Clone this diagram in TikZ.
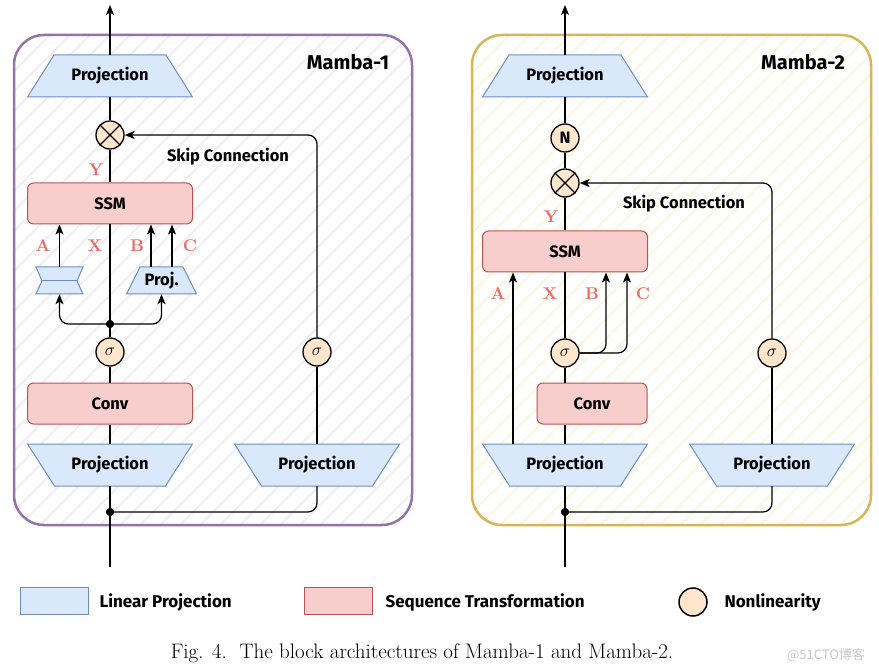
\documentclass[tikz,border=0pt]{standalone}
\usepackage{fontspec}
\newfontfamily\dfont{Fira Sans}
\newfontfamily\cjkfont{Noto Sans CJK SC}
\newfontfamily\lmbold{lmroman10-bold}[Extension=.otf]
\usetikzlibrary{arrows.meta,calc}
\definecolor{projfill}{HTML}{DAE8FC}
\definecolor{projdraw}{HTML}{6C8EBF}
\definecolor{seqfill}{HTML}{F8CECC}
\definecolor{seqdraw}{HTML}{B85450}
\definecolor{nlfill}{HTML}{FFE6CC}
\definecolor{purpleb}{HTML}{9673A6}
\definecolor{goldb}{HTML}{D6B656}
\definecolor{hatchP}{HTML}{E1D5E7}
\definecolor{hatchY}{HTML}{FFF2CC}
\definecolor{lab}{HTML}{EA6B66}
\newcommand\trapz[7]{%
  \draw[trapstyle] ({#2-#4/2},{#3-#6/2}) -- ({#2+#4/2},{#3-#6/2}) -- ({#2+#5/2},{#3+#6/2}) -- ({#2-#5/2},{#3+#6/2}) -- cycle;
  \node[txt, minimum width=#5pt, minimum height=#6pt, inner sep=0pt] (#1) at (#2,#3) {#7};}
\tikzset{
  txt/.style={font=\dfont\bfseries\fontsize{16.5}{18}\selectfont, text=black},
  trapstyle/.style={draw=projdraw, fill=projfill, line width=1pt},
  seqbox/.style={txt, draw=seqdraw, fill=seqfill, line width=1pt, rounded corners=6pt, minimum width=165pt, minimum height=41pt, inner sep=0pt},
  opc/.style={circle, draw=black, fill=nlfill, line width=1.3pt, minimum size=28pt, inner sep=0pt, font=\fontsize{16}{16}\selectfont},
  conn/.style={line width=1.2pt, black},
  arr/.style={conn, -{Stealth[length=10pt,width=8pt,inset=2.5pt]}},
  dotn/.style={circle, fill=black, inner sep=0pt, minimum size=8pt},
  lbl/.style={text=lab, font=\lmbold\fontsize{17}{17}\selectfont},
  title/.style={font=\dfont\bfseries\fontsize{20}{22}\selectfont},
  hatchL/.style={line width=2pt, draw=hatchP!45},
  hatchR/.style={line width=2pt, draw=hatchY!75},
}
\begin{document}
\begin{tikzpicture}[x=1pt,y=-1pt]
\useasboundingbox (0,0) rectangle (879,671);
\fill[white] (0,0) rectangle (879,671);
% ---------- block frames with hatching
\begin{scope}
  \clip[rounded corners=30pt] (14,35) rectangle (412,525);
  \foreach \i in {-540,-520,...,420} \draw[hatchL] (\i,525) -- ++(500,-500);
\end{scope}
\draw[purpleb, line width=2.5pt, rounded corners=30pt] (14,35) rectangle (412,525);
\begin{scope}
  \clip[rounded corners=30pt] (472,35) rectangle (871,525);
  \foreach \i in {-80,-60,...,880} \draw[hatchR] (\i,525) -- ++(500,-500);
\end{scope}
\draw[goldb, line width=2.5pt, rounded corners=30pt] (472,35) rectangle (871,525);

% ================= Mamba-1 =================
\node[title, anchor=center] (t1) at (348,62) {Mamba-1};
\trapz{p1top}{110}{76}{112}{165}{42}{Projection}
\node[opc] (mul1) at (110,135) {};
\draw[line width=1.2pt] (mul1.north east) -- (mul1.south west) (mul1.north west) -- (mul1.south east);
\node[seqbox] (ssm1) at (110,203.5) {SSM};
% hourglass
\draw[trapstyle] (36,267) -- (83,267) -- (77,281) -- (83,294) -- (36,294) -- (42,281) -- cycle;
\draw[projdraw, line width=1pt] (42,281) -- (77,281);
\node[inner sep=0pt, minimum width=47pt, minimum height=27pt] (hg) at (59.5,280.5) {};
\trapz{proj1}{161.5}{280.5}{43}{70}{27}{Proj.}
\node[dotn] (dot1) at (110,324) {};
\node[opc] (sig1) at (110,352) {$\sigma$};
\node[opc] (sig1r) at (317,352) {$\sigma$};
\node[seqbox] (conv1) at (110,403.5) {Conv};
\trapz{p1L}{110}{465}{165}{111}{42}{Projection}
\trapz{p1R}{317}{465}{165}{111}{42}{Projection}
\node[dotn] (dot1b) at (110,512) {};
\coordinate (in1) at (110,567);
\coordinate (out1) at (110,5);
\coordinate (xB1) at (151,0);
\coordinate (xC1) at (172,0);
\node[txt] (skip1) at (228,157) {Skip Connection};
\node[lbl] (Y1) at (96,170) {Y};
\node[lbl] (A1) at (43,246) {A};
\node[lbl] (X1) at (95,246) {X};
\node[lbl] (B1) at (137,246) {B};
\node[lbl] (C1) at (190,246) {C};
% connectors
\draw[conn] (in1) -- (p1L.south);
\draw[conn, rounded corners=9pt] (dot1b.center) -| (p1R.south);
\draw[conn] (p1L.north) -- (conv1.south);
\draw[conn] (conv1.north) -- (sig1.south);
\draw[conn] (sig1.north) -- (ssm1.south);
\draw[arr, rounded corners=9pt] (dot1.center) -| (hg.south);
\draw[arr, rounded corners=9pt] (dot1.center) -| (proj1.south);
\draw[arr] (hg.north) -- (hg.north |- ssm1.south);
\draw[arr] (xB1 |- proj1.north) -- (xB1 |- ssm1.south);
\draw[arr] (xC1 |- proj1.north) -- (xC1 |- ssm1.south);
\draw[conn] (ssm1.north) -- (mul1.south);
\draw[conn] (mul1.north) -- (p1top.south);
\draw[arr] (p1top.north) -- (out1);
\draw[conn] (p1R.north) -- (sig1r.south);
\draw[arr, rounded corners=9pt] (sig1r.north) |- (mul1.east);
\node[dotn] at (dot1) {};
\node[dotn] at (dot1b) {};

% ================= Mamba-2 =================
\node[title, anchor=center] (t2) at (803,62) {Mamba-2};
\trapz{p2top}{565}{76}{112}{165}{42}{Projection}
\node[opc, txt] (norm2) at (565,138) {N};
\node[opc] (mul2) at (565,183) {};
\draw[line width=1.2pt] (mul2.north east) -- (mul2.south west) (mul2.north west) -- (mul2.south east);
\node[seqbox] (ssm2) at (565,251.5) {SSM};
\node[opc] (sig2) at (565,353) {$\sigma$};
\node[opc] (sig2r) at (772,353) {$\sigma$};
\node[seqbox, minimum width=110pt] (conv2) at (592,403.5) {Conv};
\trapz{p2L}{565}{465}{165}{111}{42}{Projection}
\trapz{p2R}{772}{465}{165}{111}{42}{Projection}
\node[dotn] (dot2b) at (565,512) {};
\coordinate (in2) at (565,567);
\coordinate (out2) at (565,5);
\coordinate (xA2) at (513,0);
\coordinate (xB2) at (606,0);
\coordinate (xC2) at (627,0);
\node[txt] (skip2) at (684,204) {Skip Connection};
\node[lbl] (Y2) at (551,217) {Y};
\node[lbl] (A2) at (498,294) {A};
\node[lbl] (X2) at (550,294) {X};
\node[lbl] (B2) at (592,294) {B};
\node[lbl] (C2) at (643,294) {C};
\draw[conn] (in2) -- (p2L.south);
\draw[conn, rounded corners=9pt] (dot2b.center) -| (p2R.south);
\draw[conn] (p2L.north) -- (p2L.north |- conv2.south);
\draw[conn] (sig2.south |- conv2.north) -- (sig2.south);
\draw[conn] (sig2.north) -- (ssm2.south);
\draw[arr] (xA2 |- p2L.north) -- (xA2 |- ssm2.south);
\draw[arr, rounded corners=9pt] (sig2.east) -| (xB2 |- ssm2.south);
\draw[arr, rounded corners=9pt] (sig2.east) -| (xC2 |- ssm2.south);
\draw[conn] (ssm2.north) -- (mul2.south);
\draw[conn] (mul2.north) -- (norm2.south);
\draw[conn] (norm2.north) -- (p2top.south);
\draw[arr] (p2top.north) -- (out2);
\draw[conn] (p2R.north) -- (sig2r.south);
\draw[arr, rounded corners=9pt] (sig2r.north) |- (mul2.east);
\node[dotn] at (dot2b) {};

% ================= Legend =================
\node[draw=projdraw, fill=projfill, line width=1pt, minimum width=68pt, minimum height=27pt, inner sep=0pt] (legP) at (54,601) {};
\node[txt, anchor=west, font=\dfont\bfseries\fontsize{17}{19}\selectfont] (legPt) at (96,602) {Linear Projection};
\node[draw=seqdraw, fill=seqfill, line width=1pt, minimum width=68pt, minimum height=27pt, inner sep=0pt] (legS) at (338,601) {};
\node[txt, anchor=west, font=\dfont\bfseries\fontsize{17}{19}\selectfont] (legSt) at (382,602) {Sequence Transformation};
\node[opc, line width=1.5pt] (legN) at (693,602) {};
\node[txt, anchor=west, font=\dfont\bfseries\fontsize{17}{19}\selectfont] (legNt) at (721,602) {Nonlinearity};

% caption
\node[font=\rmfamily\fontsize{21}{24}\selectfont] (cap) at (422,653) {Fig. 4.\ \ The block architectures of Mamba-1 and Mamba-2.};
\node[font=\cjkfont\fontsize{13}{15}\selectfont, text=black!22] (wm) at (826,655) {@51CTO博客};
\end{tikzpicture}
\end{document}
